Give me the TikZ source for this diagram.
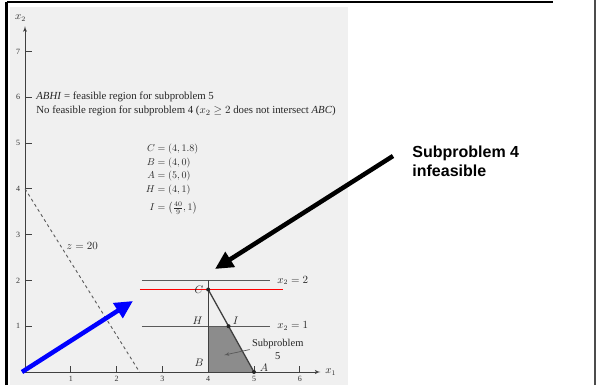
\documentclass[tikz,border=0pt]{standalone}
\usepackage{amsmath}
\usepackage{fontspec}
\setmainfont{Liberation Serif}
\newfontfamily\slidefont{Liberation Sans}
\usetikzlibrary{arrows,arrows.meta,positioning}

\begin{document}
\begin{tikzpicture}[x=1pt, y=1pt, thick]
        \tikzstyle{scanbg} = [fill=black!6, draw=none]
        \tikzstyle{rule} = [draw=black, line width=2.4pt]
        \tikzstyle{axis} = [draw=black!75, line width=0.9pt, -latex']
        \tikzstyle{tick} = [draw=black!75, line width=0.8pt]
        \tikzstyle{guide} = [draw=black!65, line width=0.9pt]
        \tikzstyle{bound} = [draw=black!75, line width=1.3pt]
        \tikzstyle{ticklbl} = [font=\fontsize{8}{9}\selectfont, text=black!80, inner sep=0pt]
        \tikzstyle{txt} = [font=\fontsize{10.5}{12.5}\selectfont, text=black!85, inner sep=0pt]
        \tikzstyle{note} = [font=\fontsize{10.8}{13}\selectfont, text=black!85, inner sep=0pt]
        \tikzstyle{dot} = [circle, fill=black!85, inner sep=0pt, minimum size=4pt]
        \tikzstyle{bigarrow} = [line width=4.5pt, -{Triangle[length=18pt, width=17pt]}]

        % slide frame and scanned page
        \useasboundingbox (0,0) rectangle (596,385);
        \fill [scanbg] (10,0) rectangle (348,378);
        \coordinate (tl) at (6.5,383);
        \coordinate (tr) at (553,383);
        \coordinate (bl) at (6.5,0);
        \coordinate (tlr) at (595,385);
        \coordinate (blr) at (595,0);
        \draw [rule] (tl) -- (tr);
        \draw [draw=black, line width=3.4pt] (bl) -- (tl);
        \draw [draw=black!70, line width=1.5pt] (blr) -- (tlr);

        \begin{scope}[shift={(25,13)}, x=45.8pt, y=45.8pt]
            \coordinate (O) at (0,0);
            \coordinate (xend) at (6.45,0);
            \coordinate (yend) at (0,7.55);
            \coordinate (A) at (5,0);
            \coordinate (B) at (4,0);
            \coordinate (C) at (4,1.8);
            \coordinate (H) at (4,1);
            \coordinate (I) at (40/9,1);
            \coordinate (D) at (4,2);

            % feasible region of subproblem 5
            \fill [black!45] (B) -- (A) -- (I) -- (H) -- cycle;

            \draw [axis] (O) -- (xend);
            \draw [axis] (O) -- (yend);
            \node [txt, anchor=west] (x1lbl) at (6.55,0) {$x_1$};
            \node [txt, anchor=south] (x2lbl) at (-0.1,7.65) {$x_2$};
            \foreach \i in {1,...,6} {
                \draw [tick] (\i,0) -- (\i,0.13);
                \node [ticklbl, anchor=north] (xt\i) at (\i,-0.08) {\i};
            }
            \foreach \j in {1,...,7} {
                \draw [tick] (0,\j) -- (0.16,\j);
                \node [ticklbl, anchor=east] (yt\j) at (-0.1,\j) {\j};
            }

            % objective and branching lines
            \coordinate (z1) at (0,4);
            \coordinate (z2) at (2.5,0);
            \draw [guide, dashed] (z1) -- (z2);
            \node [txt] (zlbl) at (1.25,2.76) {$z = 20$};

            \coordinate (g2a) at (2.55,2);
            \coordinate (g2b) at (5.35,2);
            \coordinate (g1a) at (2.55,1);
            \coordinate (g1b) at (5.35,1);
            \draw [guide] (g2a) -- (g2b);
            \draw [guide] (g1a) -- (g1b);
            \node [txt, anchor=west] (g2lbl) at (5.5,2) {$x_2 = 2$};
            \node [txt, anchor=west] (g1lbl) at (5.5,1) {$x_2 = 1$};

            \draw [bound] (B) -- (D);
            \draw [bound] (C) -- (A);

            \coordinate (r1) at (2.51,1.8);
            \coordinate (r2) at (5.63,1.8);
            \draw [red, line width=1.4pt] (r1) -- (r2);

            \node [dot] (Cdot) at (C) {};
            \node [dot] (Idot) at (I) {};
            \node [dot] (Adot) at (A) {};
            \node [txt] (Clbl) at (3.8,1.8) {$C$};
            \node [txt] (Hlbl) at (3.77,1.12) {$H$};
            \node [txt] (Ilbl) at (4.6,1.12) {$I$};
            \node [txt] (Blbl) at (3.8,0.2) {$B$};
            \node [txt] (Albl) at (5.22,0.1) {$A$};

            \node [txt, align=center] (sub5) at (5.52,0.49) {Subproblem\\5};
            \coordinate (sub5pt) at (4.35,0.37);
            \draw [guide, line width=0.7pt, -latex'] ([xshift=-2pt]sub5.west) -- (sub5pt);

            % notes of the scanned figure
            \node [note, anchor=west] (note1) at (0.24,6.0) {\textit{ABHI} = feasible region for subproblem 5};
            \node [note, below=3pt of note1.south west, anchor=north west] (note2) {No feasible region for subproblem 4 ($x_2 \geq 2$ does not intersect \textit{ABC})};
            \node [font=\fontsize{10}{12.5}\selectfont, text=black!85, inner sep=0pt] (pts) at (3.21,4.22)
                {$\begin{aligned}
                    C &= (4, 1.8)\\[-2pt]
                    B &= (4, 0)\\[-2pt]
                    A &= (5, 0)\\[-2pt]
                    H &= (4, 1)\\[3pt]
                    I &= \bigl(\tfrac{40}{9}, 1\bigr)
                \end{aligned}$};
        \end{scope}

        % slide annotations
        \node [font=\slidefont\bfseries\fontsize{16}{19}\selectfont, align=left, anchor=north west, inner sep=0pt] (inf4) at (412,239) {Subproblem 4\\infeasible};
        \coordinate (inftail) at (393,229);
        \coordinate (inftip) at (215,116);
        \draw [bigarrow, black] (inftail) -- (inftip);
        \coordinate (bluetail) at (22,13);
        \coordinate (bluetip) at (133,84);
        \draw [bigarrow, blue] (bluetail) -- (bluetip);
\end{tikzpicture}
\end{document}
